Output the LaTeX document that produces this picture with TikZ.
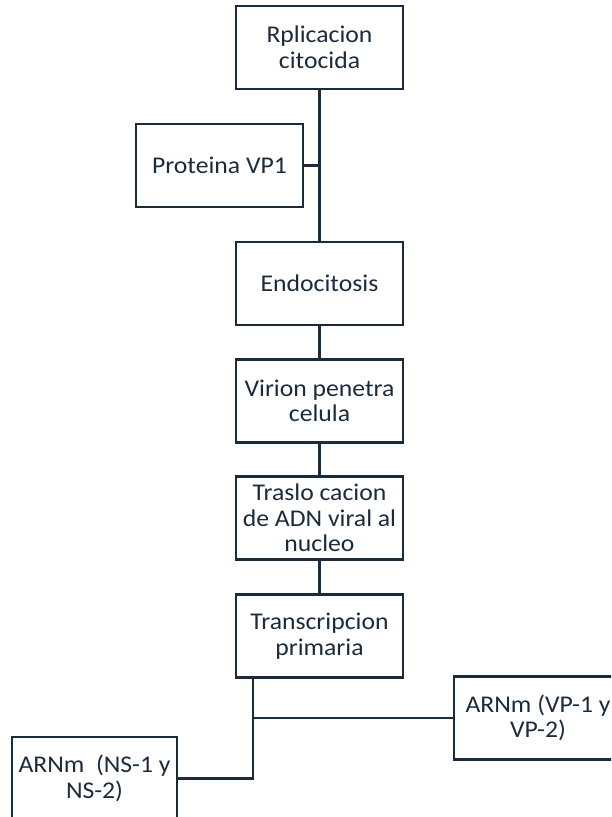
\documentclass[tikz,border=0pt]{standalone}
\usepackage{fontspec}
\setmainfont{Carlito}[FakeStretch=1.07]
\definecolor{navy}{HTML}{1C2B3C}
\begin{document}
\begin{tikzpicture}[x=1pt,y=-1pt,
  box/.style={draw=navy,line width=2.6pt,minimum width=167pt,minimum height=83pt,
    inner sep=0pt,align=center,text=navy,font=\fontsize{24}{25.5}\selectfont},
  link/.style={draw=navy,line width=2.6pt}]
\useasboundingbox (0,0) rectangle (611,817);
\clip (0,0) rectangle (611,817);
\node[box] (rep) at (319.5,47.5) {Rplicacion\\citocida};
\node[box] (vp1) at (219.5,165.5) {Proteina VP1};
\node[box] (endo) at (319.5,283.5) {Endocitosis};
\node[box] (vir) at (319.5,401) {Virion penetra\\celula};
\node[box] (tras) at (319.5,518) {Traslo cacion\\de ADN viral al\\nucleo};
\node[box] (trans) at (319.5,636) {Transcripcion\\primaria};
\node[box,minimum width=168pt] (arvp) at (538,718) {ARNm (VP-1 y\\VP-2)};
\node[box,minimum width=165pt] (arns) at (94.5,778.5) {ARNm\ \ (NS-1 y\\NS-2)};
\coordinate (b) at ([xshift=-66.5pt]trans.south);
\draw[link] (rep) -- (endo);
\draw[link] (vp1.east) -- (vp1.east -| rep.south);
\draw[link] (endo) -- (vir);
\draw[link] (vir) -- (tras);
\draw[link] (tras) -- (trans);
\draw[link] (b) |- (arns.east);
\draw[link] (arvp.west) -- (arvp.west -| b);
\end{tikzpicture}
\end{document}
